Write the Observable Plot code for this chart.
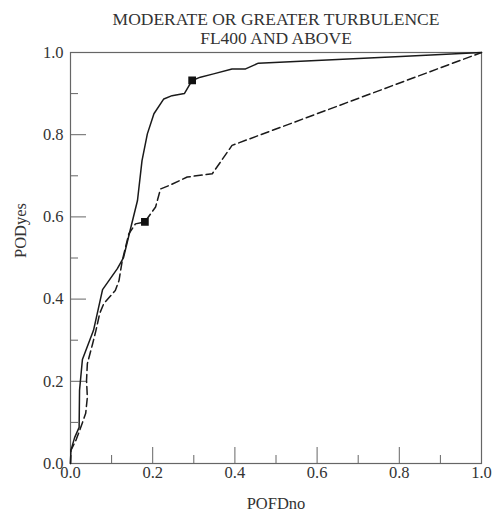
<!DOCTYPE html>
<html>
<head>
<meta charset="utf-8">
<script src="https://cdn.jsdelivr.net/npm/d3@7"></script>
<script src="https://cdn.jsdelivr.net/npm/@observablehq/plot@0.6"></script>
<style>
  html, body { margin: 0; padding: 0; background: #fff; }
</style>
</head>
<body>
<div id="chart"></div>
<script>
const titleLines = ["MODERATE OR GREATER TURBULENCE", "FL400 AND ABOVE"];
const xLabel = "POFDno";
const yLabel = "PODyes";
const majorTicks = [0, 0.2, 0.4, 0.6, 0.8, 1.0];
const minorTicks = [0.1, 0.3, 0.5, 0.7, 0.9];

// Solid curve
const solidX = [0, 0.001, 0.010, 0.021, 0.022, 0.029, 0.056, 0.078, 0.114, 0.129, 0.148, 0.163, 0.174, 0.187, 0.203, 0.227, 0.247, 0.277, 0.296, 0.316, 0.348, 0.393, 0.426, 0.457, 0.560, 0.803, 1.0];
const solidY = [0, 0.032, 0.063, 0.088, 0.178, 0.253, 0.324, 0.423, 0.474, 0.501, 0.579, 0.640, 0.737, 0.802, 0.851, 0.887, 0.895, 0.900, 0.932, 0.940, 0.948, 0.960, 0.960, 0.974, 0.979, 0.990, 1.0];

// Dashed curve
const dashX = [0, 0.001, 0.013, 0.025, 0.037, 0.041, 0.039, 0.041, 0.054, 0.062, 0.071, 0.081, 0.109, 0.118, 0.126, 0.142, 0.158, 0.181, 0.207, 0.219, 0.239, 0.284, 0.345, 0.393, 1.0];
const dashY = [0, 0.032, 0.056, 0.088, 0.122, 0.161, 0.202, 0.243, 0.292, 0.324, 0.365, 0.389, 0.421, 0.445, 0.494, 0.559, 0.583, 0.588, 0.624, 0.668, 0.676, 0.697, 0.705, 0.774, 1.0];

// Square markers
const markerX = [0.296, 0.181];
const markerY = [0.932, 0.588];

const solid = solidX.map((x, i) => ({x, y: solidY[i]}));
const dashed = dashX.map((x, i) => ({x, y: dashY[i]}));
const markers = markerX.map((x, i) => ({x, y: markerY[i]}));

const font = "Liberation Serif, Times New Roman, serif";
const axisColor = "#666";
const textColor = "#333";

const chart = Plot.plot({
  width: 494,
  height: 513,
  marginTop: 52,
  marginRight: 13,
  marginBottom: 50,
  marginLeft: 70,
  style: {fontFamily: font, background: "#fff", color: textColor},
  x: {domain: [0, 1]},
  y: {domain: [0, 1]},
  marks: [
    Plot.frame({stroke: axisColor, strokeWidth: 1.2}),
    // inward major / minor ticks
    Plot.axisX(majorTicks, {tickSize: -16, fill: "none", stroke: axisColor, label: null}),
    Plot.axisX(minorTicks, {tickSize: -8, fill: "none", stroke: axisColor, label: null}),
    Plot.axisY(majorTicks, {tickSize: -16, fill: "none", stroke: axisColor, label: null}),
    Plot.axisY(minorTicks, {tickSize: -8, fill: "none", stroke: axisColor, label: null}),
    // tick labels
    Plot.axisX(majorTicks, {tickSize: 0, tickPadding: 3, tickFormat: d3.format(".1f"), fontSize: 16.5, fill: textColor, label: null}),
    Plot.axisY(majorTicks, {tickSize: 0, tickPadding: 7, tickFormat: d3.format(".1f"), fontSize: 16.5, fill: textColor, label: null}),
    // curves
    Plot.line(solid, {x: "x", y: "y", stroke: "#1a1a1a", strokeWidth: 1.5}),
    Plot.line(dashed, {x: "x", y: "y", stroke: "#1a1a1a", strokeWidth: 1.5, strokeDasharray: "8,4"}),
    Plot.dot(markers, {x: "x", y: "y", symbol: "square", r: 3.5, fill: "#111", stroke: "#111"}),
    // titles and axis labels
    Plot.text([titleLines[0]], {frameAnchor: "top", dy: -40, text: d => d, fontSize: 17.5, fill: textColor}),
    Plot.text([titleLines[1]], {frameAnchor: "top", dy: -21, text: d => d, fontSize: 17.5, fill: textColor}),
    Plot.text([xLabel], {frameAnchor: "bottom", dy: 45, text: d => d, fontSize: 16.5, fill: textColor}),
    Plot.text([yLabel], {frameAnchor: "left", dx: -50, rotate: -90, text: d => d, fontSize: 16.5, fill: textColor})
  ]
});
document.getElementById("chart").appendChild(chart);
</script>
</body>
</html>
